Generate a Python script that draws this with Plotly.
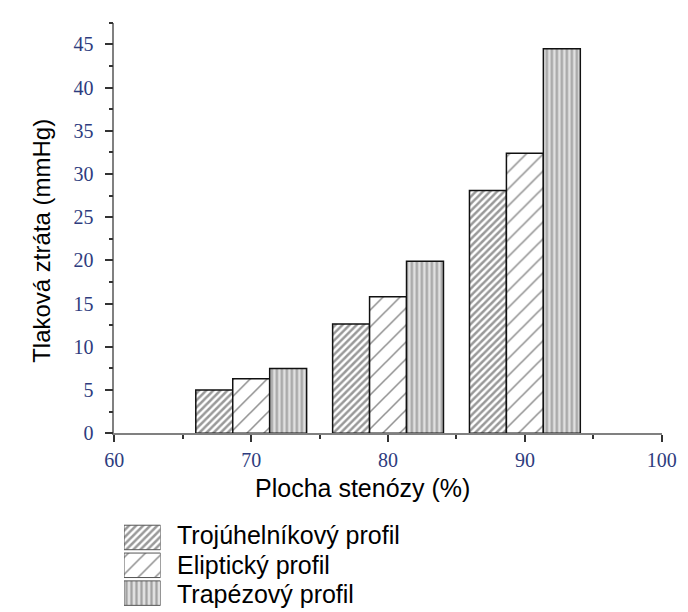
import plotly.graph_objects as go

# ---- data ----
stenosis = [70, 80, 90]
series_names = ["Trojúhelníkový profil", "Eliptický profil", "Trapézový profil"]
troj = [5.0, 12.65, 28.1]
elip = [6.3, 15.8, 32.4]
trap = [7.5, 19.9, 44.5]
x_ticks = [60, 70, 80, 90, 100]
y_ticks = [0, 5, 10, 15, 20, 25, 30, 35, 40, 45]

W, H = 688, 612
def px(x):
    return x / W
def py(y):
    return 1 - y / H

patterns = [
    dict(shape="/", size=5, solidity=0.5, fgcolor="#333333", bgcolor="white"),
    dict(shape="/", size=12, solidity=0.13, fgcolor="#222222", bgcolor="white"),
    dict(shape="|", size=5, solidity=0.45, fgcolor="#666666", bgcolor="#e0e0e0"),
]
values = [troj, elip, trap]

fig = go.Figure()
for name, vals, pat in zip(series_names, values, patterns):
    fig.add_trace(go.Bar(
        x=stenosis, y=vals, name=name,
        marker=dict(color="white", pattern=pat,
                    line=dict(color="#111111", width=1.5)),
        xaxis="x", yaxis="y", showlegend=False,
    ))

# legend swatches drawn as bars on a small helper axis
rows = [3, 2, 1]
for name, pat, r in zip(series_names, patterns, rows):
    fig.add_trace(go.Bar(
        x=[1], y=[r], orientation="h", width=0.88,
        marker=dict(color="white", pattern=pat,
                    line=dict(color="#555555", width=1)),
        xaxis="x2", yaxis="y2", showlegend=False, hoverinfo="skip",
    ))

tickfont = dict(family="Liberation Serif", size=20, color="#2e3c7e")
axcol = "#808080"

fig.update_layout(
    width=W, height=H,
    margin=dict(l=0, r=0, t=0, b=0),
    paper_bgcolor="white", plot_bgcolor="white",
    barmode="group", bargap=0.19, bargroupgap=0,
    showlegend=False,
    xaxis=dict(domain=[px(100), px(668)], range=[60, 100],
               tickvals=x_ticks, ticks="outside", ticklen=7, tickwidth=1.5,
               tickcolor="#333333", showline=True, linecolor=axcol, linewidth=1.5,
               showgrid=False, zeroline=False, tickfont=tickfont,
               ticklabelstandoff=1,
               minor=dict(dtick=5, tick0=60, ticks="outside", ticklen=4,
                          tickcolor="#333333", tickwidth=1.5, showgrid=False),
               anchor="y"),
    yaxis=dict(domain=[py(433), py(15)], range=[0, 47.5],
               tickvals=y_ticks, ticks="outside", ticklen=8, tickwidth=1.5,
               tickcolor="#333333", showline=True, linecolor=axcol, linewidth=1.5,
               showgrid=False, zeroline=False, tickfont=tickfont,
               ticklabelstandoff=7,
               minor=dict(dtick=2.5, tick0=0, ticks="outside", ticklen=4,
                          tickcolor="#333333", tickwidth=1.5, showgrid=False),
               anchor="x"),
    xaxis2=dict(domain=[px(110), px(148)], range=[0, 1], visible=False,
                anchor="y2", fixedrange=True),
    yaxis2=dict(domain=[py(610), py(525)], range=[0.5, 3.5], visible=False,
                anchor="x2", fixedrange=True),
)

font_sans = "Liberation Sans"
annotations = [
    dict(text="Plocha stenózy (%)", x=px(357), y=py(489), xref="paper", yref="paper",
         showarrow=False, font=dict(family=font_sans, size=25, color="black"),
         xanchor="center", yanchor="middle"),
    dict(text="Tlaková ztráta (mmHg)", x=px(25), y=py(237), xref="paper", yref="paper",
         showarrow=False, textangle=-90, font=dict(family=font_sans, size=24, color="black"),
         xanchor="center", yanchor="middle"),
]
row_y = [537, 567, 597]
for name, yy in zip(series_names, row_y):
    annotations.append(dict(text=name, x=px(163), y=py(yy), xref="paper", yref="paper",
                            showarrow=False, xanchor="left", yanchor="middle",
                            font=dict(family=font_sans, size=25, color="black")))
fig.update_layout(annotations=annotations)

fig.write_html("out.html")
